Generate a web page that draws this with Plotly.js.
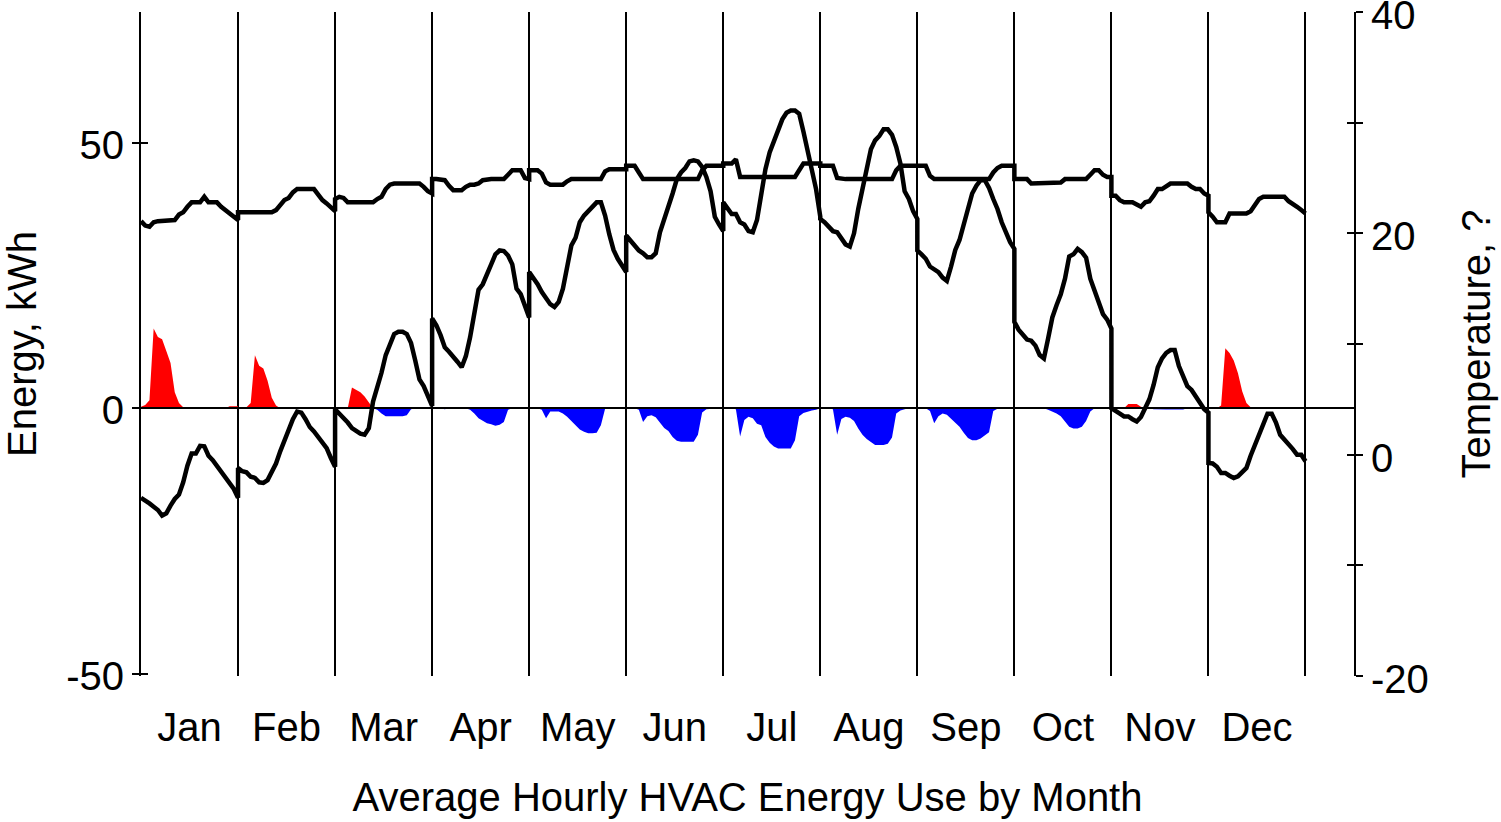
<!DOCTYPE html>
<html>
<head>
<meta charset="utf-8">
<script src="https://cdn.plot.ly/plotly-3.0.1.min.js"></script>
<style>
  html, body { margin: 0; padding: 0; background: #fff; }
  #chart { width: 1501px; height: 822px; }
</style>
</head>
<body>
<div id="chart"></div>
<script>
// ---- Data (24 hourly averages per month) ----
const months = ['Jan','Feb','Mar','Apr','May','Jun','Jul','Aug','Sep','Oct','Nov','Dec'];

// Heating energy, kWh (positive, red area)
const heating = [
  /*Jan*/ 0.3,0.6,1.5,15.0,13.4,13.0,10.8,8.5,3.0,1.0,0.2,0,0,0,0,0,0,0.2,0,0,0,0.4,0.4,0.4,
  /*Feb*/ 0.2,0.2,0.2,1.0,10.0,8.0,7.5,5.2,2.0,0.5,0,0,0,0,0,0,0,0,0,0,0,0,0,0,
  /*Mar*/ 0,0,0,0,3.9,3.5,3.0,2.2,1.2,0,0,0,0,0,0,0,0,0,0,0,0,0,0,0,
  /*Apr*/ 0,0,0,0,0,0,0,0,0,0,0,0,0,0,0,0,0,0,0,0,0,0,0,0,
  /*May*/ 0,0,0,0,0,0,0,0,0,0,0,0,0,0,0,0,0,0,0,0,0,0,0,0,
  /*Jun*/ 0,0,0,0,0,0,0,0,0,0,0,0,0,0,0,0,0,0,0,0,0,0,0,0,
  /*Jul*/ 0,0,0,0,0,0,0,0,0,0,0,0,0,0,0,0,0,0,0,0,0,0,0,0,
  /*Aug*/ 0,0,0,0,0,0,0,0,0,0,0,0,0,0,0,0,0,0,0,0,0,0,0,0,
  /*Sep*/ 0,0,0,0,0,0,0,0,0,0,0,0,0,0,0,0,0,0,0,0,0,0,0,0,
  /*Oct*/ 0,0,0,0,0,0,0,0,0,0,0,0,0,0,0,0,0,0,0,0,0,0,0,0,
  /*Nov*/ 0,0,0,0,0.8,0.8,0.8,0.3,0,0,0,0,0,0,0,0,0,0,0,0,0,0,0,0,
  /*Dec*/ 0,0,0,0.5,11.3,10.4,9.0,6.6,3.2,1.0,0.2,0,0,0,0,0,0,0,0,0,0,0,0,0
];

// Cooling energy, kWh (negative, blue area)
const cooling = [
  /*Jan*/ 0,0,0,0,0,0,0,0,0,0,0,0,0,0,0,0,0,0,0,0,0,0,0,0,
  /*Feb*/ 0,0,0,0,0,0,0,0,0,0,0,0,0,0,0,0,0,0,0,0,0,0,0,0,
  /*Mar*/ 0,0,0,0,0,0,0,0,0,0,-0.3,-1.0,-1.5,-1.5,-1.5,-1.5,-1.5,-1.3,-0.2,0,0,0,0,0,
  /*Apr*/ 0,0,0,-0.2,0,0,0,0,0,-0.3,-1.0,-1.9,-2.4,-2.8,-3.0,-3.3,-3.1,-2.6,-0.3,0,0,0,0,0,
  /*May*/ 0,0,0,-0.3,-1.9,-0.6,-0.6,-0.6,-1.0,-1.6,-2.4,-3.2,-4.0,-4.4,-4.7,-4.7,-4.6,-3.2,-0.1,-0.1,0,0,0,0,
  /*Jun*/ 0,0,0,-0.3,-2.6,-1.5,-1.3,-1.7,-2.7,-3.7,-4.3,-5.4,-6.1,-6.3,-6.3,-6.3,-6.3,-5.0,-0.8,-0.2,-0.1,0,0,0,
  /*Jul*/ 0,0,0,-0.2,-5.3,-2.2,-1.6,-1.9,-2.9,-3.2,-5.4,-6.5,-7.2,-7.55,-7.55,-7.55,-7.55,-6.0,-1.5,-0.9,-0.6,-0.4,-0.3,0,
  /*Aug*/ 0,0,0,-0.2,-5.0,-2.0,-1.6,-1.8,-2.4,-3.8,-5.0,-5.8,-6.3,-6.9,-6.9,-6.9,-6.7,-5.5,-1.0,-0.4,-0.2,0,0,0,
  /*Sep*/ 0,0,0,-0.5,-2.8,-1.5,-1.0,-1.2,-2.0,-2.8,-3.5,-4.6,-5.6,-6.0,-6.0,-5.7,-5.1,-4.5,-0.5,-0.1,0,0,0,0,
  /*Oct*/ 0,0,0,0,0,0,0,0,-0.3,-0.6,-1.0,-1.5,-2.6,-3.5,-3.8,-3.8,-3.5,-2.4,-0.6,0,0,0,0,0,
  /*Nov*/ 0,0,0,0,0,0,0,0,0,0,-0.2,-0.25,-0.25,-0.25,-0.25,-0.25,-0.25,-0.25,0,0,0,0,0,0,
  /*Dec*/ 0,0,0,0,0,0,0,0,0,0,0,0,0,0,0,0,0,0,0,0,0,0,0,0
];

// Indoor temperature (upper black line)
const indoorTemp = [
  /*Jan*/ 21.1,20.7,20.6,21.0,21.1,21.1,21.1,21.1,21.2,21.7,21.9,22.4,22.8,22.8,22.8,23.3,22.8,22.8,22.8,22.4,22.1,21.9,21.5,21.2,
  /*Feb*/ 21.9,21.9,21.9,21.9,21.9,21.9,21.9,21.9,21.9,22.1,22.6,23.0,23.2,23.7,24.0,24.0,24.0,24.0,24.0,23.5,23.0,22.7,22.4,22.0,
  /*Mar*/ 23.1,23.3,23.2,22.8,22.8,22.8,22.8,22.8,22.8,22.8,23.1,23.3,24.0,24.4,24.5,24.5,24.5,24.5,24.5,24.5,24.5,24.2,23.8,23.6,
  /*Apr*/ 24.9,24.9,24.9,24.8,24.3,23.9,23.9,23.9,24.2,24.4,24.4,24.5,24.8,24.9,24.9,24.9,24.9,24.9,25.3,25.7,25.7,25.7,25.0,24.9,
  /*May*/ 25.7,25.7,25.7,25.4,24.6,24.4,24.4,24.4,24.4,24.7,24.9,24.9,24.9,24.9,24.9,24.9,24.9,24.9,25.6,25.8,25.8,25.8,25.8,25.8,
  /*Jun*/ 26.1,26.1,26.1,25.5,24.9,24.9,24.9,24.9,24.9,24.9,24.9,24.9,24.9,24.9,24.9,24.9,24.9,24.9,25.7,26.1,26.1,26.1,26.1,26.1,
  /*Jul*/ 26.3,26.3,26.3,26.7,25.1,25.1,25.1,25.1,25.1,25.1,25.1,25.1,25.1,25.1,25.1,25.1,25.1,25.1,25.7,26.3,26.3,26.3,26.3,26.3,
  /*Aug*/ 26.1,26.1,26.1,26.1,25.0,24.9,24.9,24.9,24.9,24.9,24.9,24.9,24.9,24.9,24.9,24.9,24.9,24.9,25.7,26.1,26.1,26.1,26.1,26.1,
  /*Sep*/ 26.1,26.1,26.1,25.2,24.9,24.9,24.9,24.9,24.9,24.9,24.9,24.9,24.9,24.9,24.9,24.9,24.9,24.9,25.5,25.9,26.1,26.1,26.1,26.1,
  /*Oct*/ 24.9,24.9,24.9,24.9,24.5,24.5,24.5,24.5,24.5,24.5,24.5,24.6,24.9,24.9,24.9,24.9,24.9,24.9,25.3,25.7,25.7,25.3,25.1,25.1,
  /*Nov*/ 23.4,23.4,23.0,22.8,22.8,22.8,22.6,22.4,22.8,22.9,23.4,24.0,24.0,24.2,24.5,24.5,24.5,24.5,24.5,24.2,24.0,24.0,23.6,23.4,
  /*Dec*/ 21.9,21.5,21.0,21.0,21.0,21.8,21.8,21.8,21.8,21.8,22.0,22.5,23.1,23.3,23.3,23.3,23.3,23.3,23.3,22.9,22.7,22.4,22.1,21.8
];

// Outdoor temperature (lower black line)
const outdoorTemp = [
  /*Jan*/ -3.9,-4.1,-4.4,-4.7,-5.0,-5.5,-5.3,-4.6,-4.0,-3.6,-2.5,-1.0,0.1,0.1,0.8,0.75,-0.1,-0.5,-1.05,-1.55,-2.1,-2.55,-3.1,-3.9,
  /*Feb*/ -1.2,-1.5,-1.6,-2.0,-2.1,-2.5,-2.55,-2.3,-1.6,-0.8,0.3,1.3,2.1,3.2,3.9,3.8,3.2,2.5,2.1,1.6,1.2,0.6,-0.3,-1.1,
  /*Mar*/ 4.1,3.7,3.4,2.9,2.4,2.1,1.9,1.8,2.4,4.8,6.0,7.4,9.0,10.1,10.9,11.1,11.1,10.9,10.1,8.5,6.8,6.2,5.4,4.4,
  /*Apr*/ 12.3,11.7,10.8,9.7,9.3,8.9,8.4,7.9,8.9,10.6,12.6,14.9,15.4,16.4,17.2,18.1,18.45,18.4,18.0,17.2,15.0,14.5,13.3,12.4,
  /*May*/ 16.5,16.0,15.4,14.7,14.1,13.6,13.35,13.8,15.0,17.0,18.9,19.6,21.0,21.6,22.0,22.5,22.8,22.8,21.6,19.9,18.5,17.7,17.0,16.5,
  /*Jun*/ 19.8,19.3,18.8,18.45,18.2,17.85,17.85,18.2,20.1,21.2,22.2,23.6,24.9,25.5,25.9,26.5,26.6,26.5,26.0,25.1,23.8,21.5,20.8,20.2,
  /*Jul*/ 22.8,22.2,21.75,21.75,21.0,20.8,20.2,20.1,21.2,23.5,25.8,27.3,28.4,29.5,30.3,30.9,31.1,31.1,30.8,29.2,27.3,25.4,24.0,21.5,
  /*Aug*/ 21.3,21.0,20.6,20.2,20.1,19.6,19.0,18.8,20.0,22.2,24.1,25.9,27.6,28.4,28.8,29.4,29.4,28.9,27.8,26.3,23.8,23.1,22.0,21.3,
  /*Sep*/ 18.45,18.1,17.7,17.0,16.8,16.5,16.0,15.7,17.0,18.5,19.4,20.9,22.3,23.6,24.3,24.8,24.8,24.1,23.1,22.2,21.0,20.1,19.2,18.6,
  /*Oct*/ 12.0,11.3,10.9,10.4,10.3,9.85,9.0,8.7,10.5,12.4,13.5,14.5,15.9,17.9,18.1,18.6,18.3,17.8,15.9,14.8,13.8,12.7,12.2,11.4,
  /*Nov*/ 4.2,4.0,3.7,3.45,3.45,3.2,3.0,3.4,4.3,5.0,6.3,7.9,8.7,9.2,9.45,9.45,8.0,7.0,6.2,5.85,5.3,4.8,4.1,3.8,
  /*Dec*/ -0.75,-0.8,-1.1,-1.65,-1.65,-1.9,-2.1,-1.95,-1.6,-1.2,-0.1,0.8,1.8,2.7,3.7,3.7,2.9,1.8,1.4,1.0,0.5,0.0,0.0,-0.6
];

// ---- Build positions: each month spans one unit on the x axis ----
const HOURS = 24;
const xPos = [];
for (let m = 0; m < months.length; m++) {
  for (let h = 0; h < HOURS; h++) xPos.push(m + h / (HOURS - 1));
}
const monthCenters = months.map((_, i) => i + 0.5);
const monthEdges = months.map((_, i) => i).concat([months.length]);

const FONT = 'Liberation Sans, Arial, Helvetica, sans-serif';

const traces = [
  { x: xPos, y: heating, type: 'scatter', mode: 'lines', fill: 'tozeroy',
    fillcolor: '#FF0000', line: { width: 0, color: '#FF0000' }, yaxis: 'y', hoverinfo: 'skip' },
  { x: xPos, y: cooling, type: 'scatter', mode: 'lines', fill: 'tozeroy',
    fillcolor: '#0000FF', line: { width: 0, color: '#0000FF' }, yaxis: 'y', hoverinfo: 'skip' },
  { x: [], y: [], type: 'scatter', mode: 'lines', yaxis: 'y3', hoverinfo: 'skip' },
  { x: [], y: [], type: 'scatter', mode: 'lines', yaxis: 'y4', hoverinfo: 'skip' },
  { x: xPos, y: indoorTemp, type: 'scatter', mode: 'lines',
    line: { width: 4.5, color: '#000000' }, yaxis: 'y2', hoverinfo: 'skip' },
  { x: xPos, y: outdoorTemp, type: 'scatter', mode: 'lines',
    line: { width: 4.5, color: '#000000' }, yaxis: 'y2', hoverinfo: 'skip' }
];

const leftRange = [-50.4, 74.6];
const rightRange = [-20, 40];

const layout = {
  width: 1501, height: 822,
  margin: { l: 141, r: 147, t: 12, b: 146 },
  paper_bgcolor: '#ffffff', plot_bgcolor: '#ffffff',
  showlegend: false,
  hovermode: false,
  font: { family: FONT, size: 40, color: '#000' },
  xaxis: {
    range: [0, 12.5],
    tickmode: 'array', tickvals: monthCenters, ticktext: months,
    ticks: '', showgrid: false, zeroline: false, showline: false,
    ticklabelstandoff: 24,
    tickfont: { family: FONT, size: 40, color: '#000' },
    minor: { tickmode: 'array', tickvals: monthEdges, showgrid: true,
             gridcolor: '#000000', gridwidth: 2, ticks: '' },
    title: { text: 'Average Hourly HVAC Energy Use by Month',
             font: { family: FONT, size: 40, color: '#000' }, standoff: 34 }
  },
  yaxis: {
    range: leftRange,
    tickmode: 'array', tickvals: [-50, 0, 50], ticktext: ['-50', '0', '50'],
    ticks: 'outside', ticklen: 7, tickwidth: 2, tickcolor: '#000',
    showline: true, linecolor: '#000', linewidth: 2,
    showgrid: false,
    zeroline: true, zerolinecolor: '#000', zerolinewidth: 2,
    zerolinelayer: 'above traces',
    ticklabelstandoff: 0,
    ticklabelshift: 2,
    ticklabeloverflow: 'allow',
    tickfont: { family: FONT, size: 40, color: '#000' },
    title: { text: 'Energy, kWh', font: { family: FONT, size: 40, color: '#000' }, standoff: 20 }
  },
  yaxis3: {
    range: leftRange, overlaying: 'y', side: 'left',
    tickmode: 'array', tickvals: [-50, 0, 50],
    ticks: 'inside', ticklen: 7, tickwidth: 2, tickcolor: '#000',
    showticklabels: false, showline: false, showgrid: false, zeroline: false
  },
  yaxis2: {
    range: rightRange, overlaying: 'y', side: 'right',
    tickmode: 'array', tickvals: [-20, -10, 0, 10, 20, 30, 40],
    ticktext: ['-20', '', '0', '', '20', '', '40'],
    ticks: 'outside', ticklen: 7, tickwidth: 2, tickcolor: '#000',
    showline: true, linecolor: '#000', linewidth: 2,
    showgrid: false, zeroline: false,
    ticklabelstandoff: 0,
    ticklabelshift: 3,
    ticklabeloverflow: 'allow',
    tickfont: { family: FONT, size: 40, color: '#000' },
    title: { text: 'Temperature, ?', font: { family: FONT, size: 40, color: '#000' }, standoff: 34 }
  },
  yaxis4: {
    range: rightRange, overlaying: 'y', side: 'right',
    tickmode: 'array', tickvals: [-20, -10, 0, 10, 20, 30, 40],
    ticks: 'inside', ticklen: 7, tickwidth: 2, tickcolor: '#000',
    showticklabels: false, showline: false, showgrid: false, zeroline: false
  }
};

Plotly.newPlot('chart', traces, layout, { staticPlot: true, displayModeBar: false });
</script>
</body>
</html>
